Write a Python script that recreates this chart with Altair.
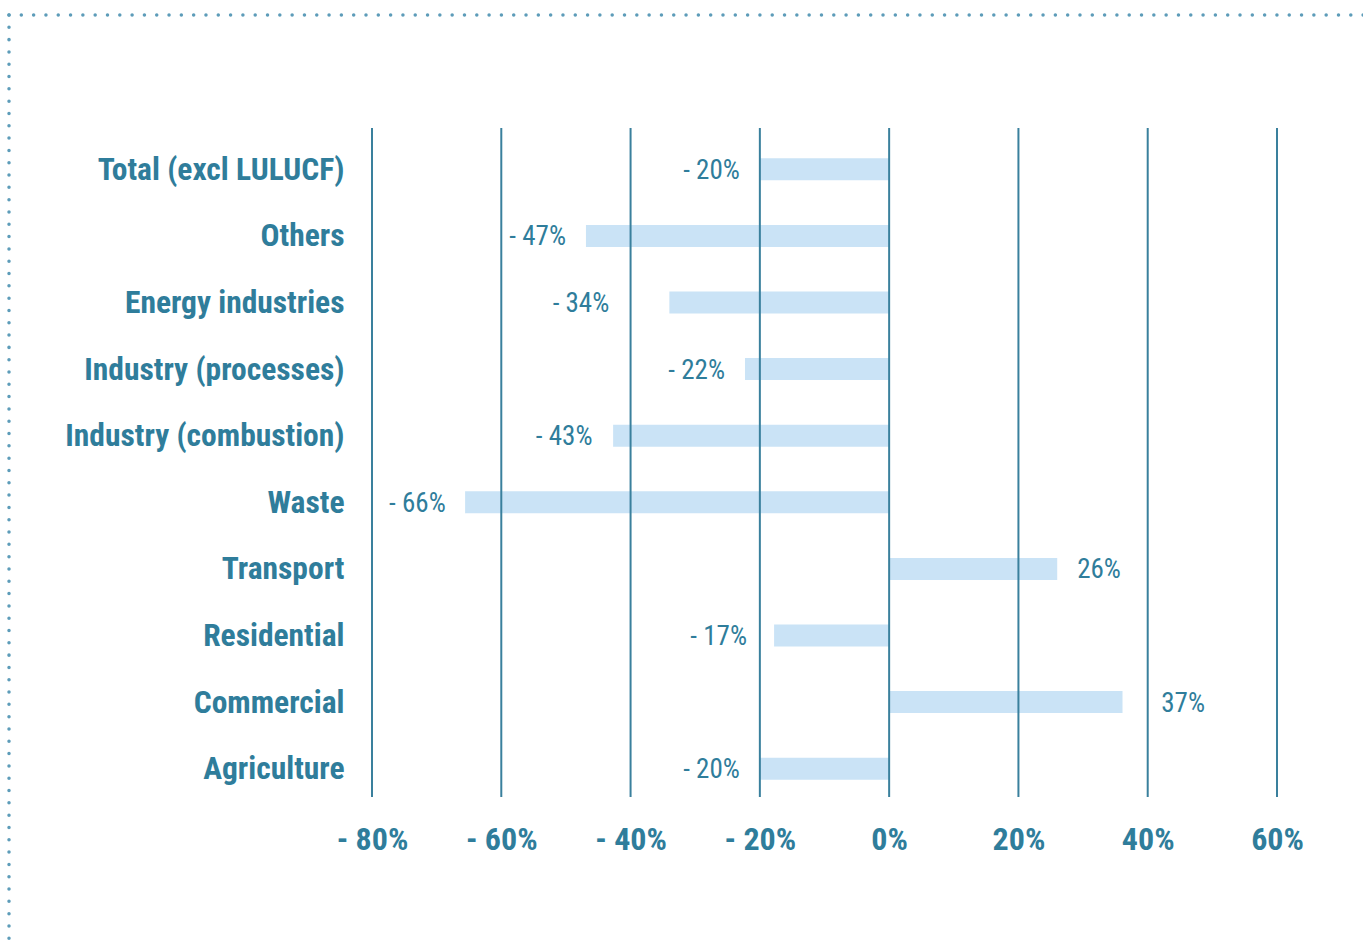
import altair as alt
import pandas as pd

categories = ["Total (excl LULUCF)", "Others", "Energy industries", "Industry (processes)",
              "Industry (combustion)", "Waste", "Transport", "Residential", "Commercial", "Agriculture"]
values = [-20, -46.9, -34, -22.3, -42.7, -65.6, 26, -17.8, 36.1, -20]
labels = ["- 20%", "- 47%", "- 34%", "- 22%", "- 43%", "- 66%", "26%", "- 17%", "37%", "- 20%"]
label_at = [-20, -46.9, -40.2, -22.3, -42.8, -65.5, 26, -18.9, 39.0, -20]
grid_ticks = [-80, -60, -40, -20, 0, 20, 40, 60]

FONT = "Roboto Condensed, Liberation Sans Narrow, DejaVu Sans Condensed, Roboto, sans-serif"
TEXT = "#2f7d9b"
GRID = "#3a809d"
BAR = "#c6e1f5"
DOT = "#5d9cb9"

W, H = 905, 666

df = pd.DataFrame({"cat": categories, "val": values, "lab": labels, "at": label_at})
gdf = pd.DataFrame({"g": grid_ticks})

xscale = alt.Scale(domain=[-80, 60], nice=False, zero=False)
yscale = alt.Scale(domain=categories, paddingInner=0.67, paddingOuter=0.335)

bars = alt.Chart(df).mark_bar(color=BAR, opacity=0.92).encode(
    x=alt.X("val:Q", scale=xscale,
            axis=alt.Axis(values=grid_ticks, grid=False, domain=False, ticks=False,
                          title=None, labelFont=FONT, labelFontSize=32, labelFontWeight="bold",
                          labelColor=TEXT, labelPadding=22, labelFlush=False, labelOverlap=False,
                          labelExpr="datum.value < 0 ? '- ' + (-datum.value) + '%' : datum.value + '%'")),
    x2=alt.datum(0),
    y=alt.Y("cat:N", scale=yscale, sort=categories,
            axis=alt.Axis(title=None, domain=False, ticks=False, grid=False, labelFont=FONT,
                          labelFontSize=31.5, labelFontWeight="bold", labelColor=TEXT,
                          labelPadding=28, labelLimit=400, labelOffset=1.5)),
)

grid = alt.Chart(gdf).mark_rule(color=GRID, strokeWidth=2).encode(
    x=alt.X("g:Q", scale=xscale),
    y=alt.value(-8),
    y2=alt.value(661),
)

neg = alt.Chart(df).transform_filter("datum.val < 0").mark_text(
    align="right", baseline="middle", dx=-20, dy=1.5, font=FONT, fontSize=27, color=TEXT
).encode(
    x=alt.X("at:Q", scale=xscale),
    y=alt.Y("cat:N", scale=yscale, sort=categories),
    text="lab:N",
)
pos = alt.Chart(df).transform_filter("datum.val >= 0").mark_text(
    align="left", baseline="middle", dx=20, dy=1.5, font=FONT, fontSize=27, color=TEXT
).encode(
    x=alt.X("at:Q", scale=xscale),
    y=alt.Y("cat:N", scale=yscale, sort=categories),
    text="lab:N",
)

border_top = alt.Chart(pd.DataFrame({"a": [0]})).mark_rule(
    color=DOT, strokeWidth=3.5, strokeDash=[0.01, 12.3], strokeCap="round"
).encode(x=alt.value(-363), x2=alt.value(995), y=alt.value(-121))
border_left = alt.Chart(pd.DataFrame({"a": [0]})).mark_rule(
    color=DOT, strokeWidth=3.5, strokeDash=[0.01, 12.3], strokeCap="round"
).encode(x=alt.value(-363), y=alt.value(-121), y2=alt.value(810))

chart = alt.layer(bars, grid, neg, pos, border_top, border_left).properties(
    width=W, height=H,
    autosize=alt.AutoSizeParams(type="none"),
    padding={"left": 372, "top": 136, "right": 86, "bottom": 142},
).configure(background="white", view=alt.ViewConfig(stroke=None))

chart.save("out.html", embed_options={"renderer": "svg", "actions": False})
